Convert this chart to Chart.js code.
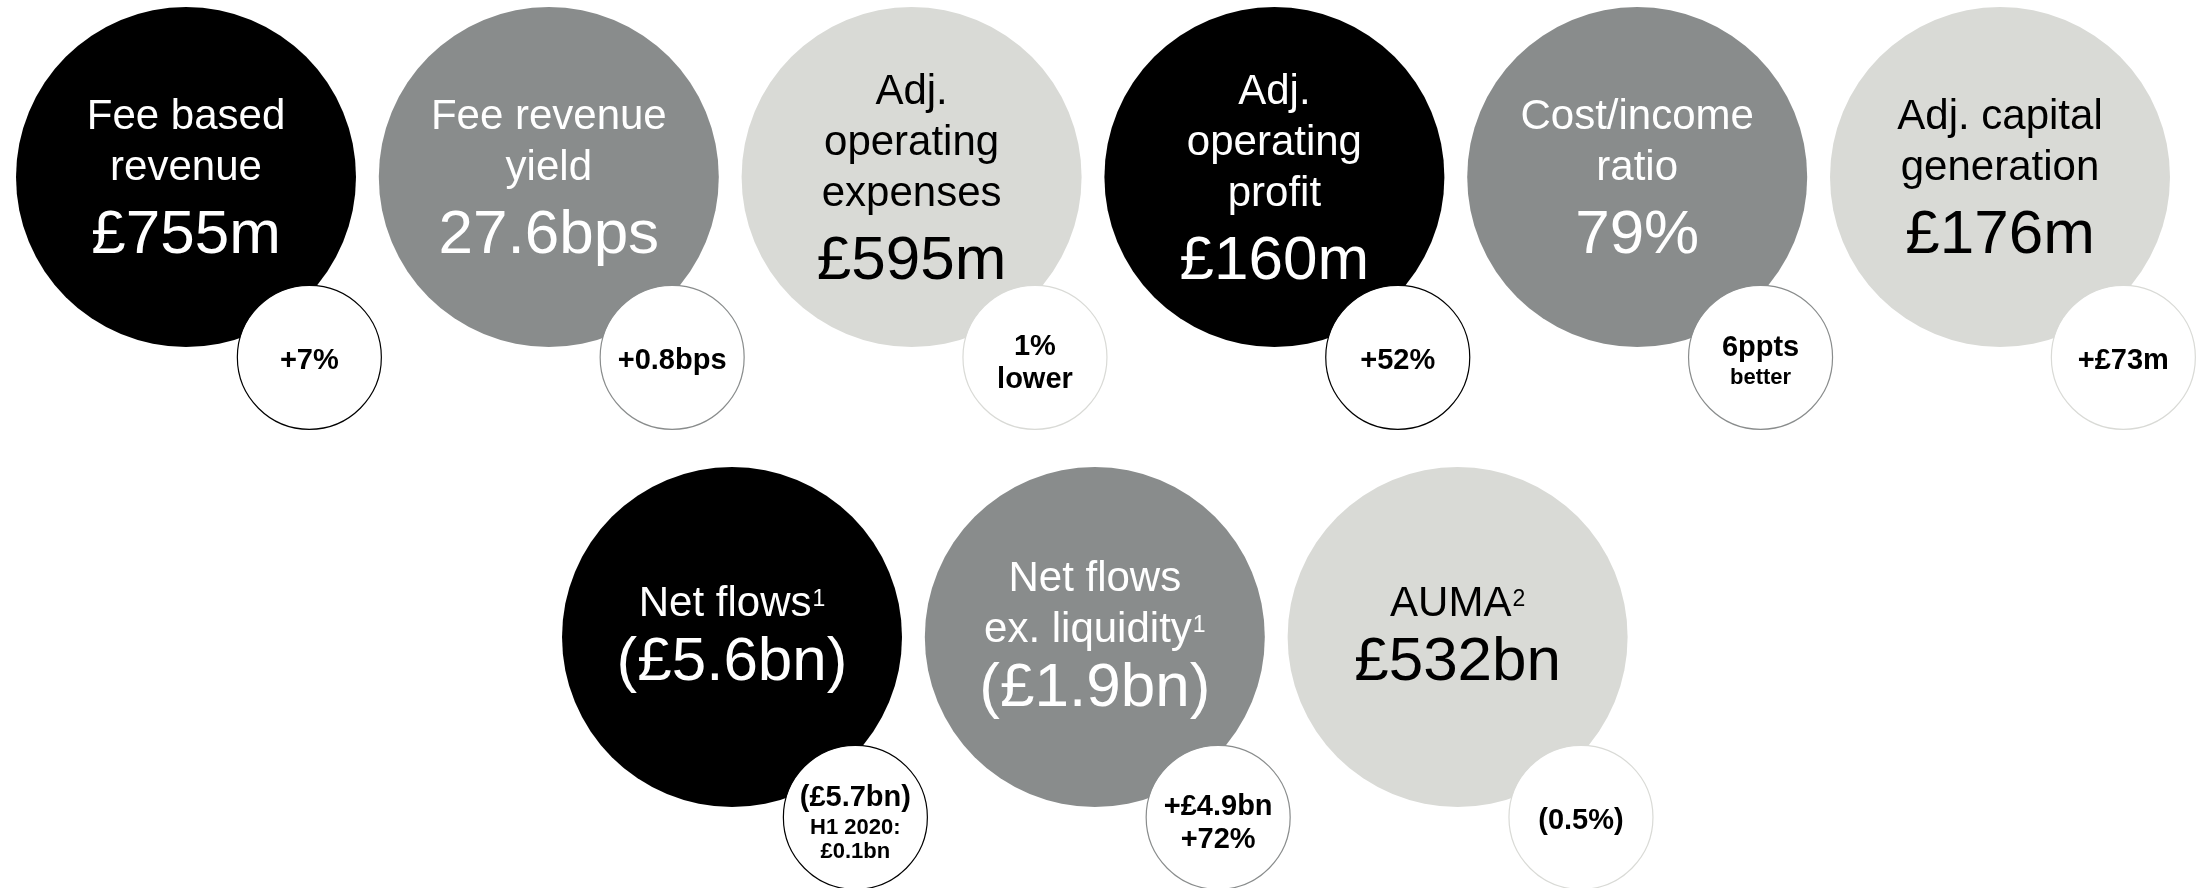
<!DOCTYPE html>
<html>
<head>
<meta charset="utf-8">
<title>H1 headline metrics</title>
<script src="https://cdn.jsdelivr.net/npm/chart.js@4"></script>
<style>
  html, body { margin: 0; padding: 0; background: #ffffff; }
  #wrap { position: relative; width: 2206px; height: 888px; }
</style>
</head>
<body>
<div id="wrap"><canvas id="kpi-canvas"></canvas></div>
<script>
// headline figures, one entry per bubble
const metricLabels = [
    ['Fee based', 'revenue'],
    ['Fee revenue', 'yield'],
    ['Adj.', 'operating', 'expenses'],
    ['Adj.', 'operating', 'profit'],
    ['Cost/income', 'ratio'],
    ['Adj. capital', 'generation'],
    ['Net flows'],
    ['Net flows', 'ex. liquidity'],
    ['AUMA']
];
const footnoteMarks = ['', '', '', '', '', '', '1', '1', '2'];
const metricValues = ['£755m', '27.6bps', '£595m', '£160m', '79%', '£176m', '(£5.6bn)', '(£1.9bn)', '£532bn'];

// movement vs prior period (small bubbles)
const changeLines = [['+7%'], ['+0.8bps'], ['1%', 'lower'], ['+52%'], ['6ppts'], ['+£73m'], ['(£5.7bn)'], ['+£4.9bn', '+72%'], ['(0.5%)']];
const changeNotes = [[], [], [], [], ['better'], [], ['H1 2020:', '£0.1bn'], [], []];

// layout: grid slot of each bubble (column, row)
const slotCol = [0, 1, 2, 3, 4, 5, 1.505, 2.505, 3.505];
const slotRow = [0, 0, 0, 0, 0, 0, 1, 1, 1];
const BADGE_DX = 0.34;
const BADGE_DY = 0.392;
const BIG_R = 170;
const SMALL_R = 72;

const TONES = ['#000000', '#898c8c', '#d9dad6'];
const INK = ['#ffffff', '#ffffff', '#000000'];
const FONT = '"Liberation Sans", Arial, Helvetica, sans-serif';
const SUP_PX = 23;

const bigPoints = metricValues.map((v, i) => ({ x: slotCol[i], y: slotRow[i], r: BIG_R }));
const smallPoints = changeLines.map((v, i) => ({ x: slotCol[i] + BADGE_DX, y: slotRow[i] + BADGE_DY, r: SMALL_R }));
const toneOf = i => TONES[i % 3];

const bubbleText = {
    id: 'bubbleText',
    afterDatasetsDraw(chart) {
        const ctx = chart.ctx;
        const big = chart.getDatasetMeta(1).data;
        const small = chart.getDatasetMeta(0).data;
        ctx.save();

        metricLabels.forEach((lines, i) => {
            const cx = big[i].x, cy = big[i].y;
            const row = slotRow[i];
            const gap = row === 0 ? 73 : 64;
            const shift = row === 0 ? -1 : -4;
            const h = (lines.length - 1) * 51 + gap + 30;
            let base = cy + shift - h / 2 + 30;
            ctx.fillStyle = INK[i % 3];
            ctx.textBaseline = 'alphabetic';

            lines.forEach((txt, k) => {
                const last = k === lines.length - 1;
                const sup = last ? footnoteMarks[i] : '';
                ctx.font = '42px ' + FONT;
                const w = ctx.measureText(txt).width;
                ctx.font = SUP_PX + 'px ' + FONT;
                const ws = sup ? ctx.measureText(sup).width + 1 : 0;
                const x0 = cx - (w + ws) / 2;
                ctx.textAlign = 'left';
                ctx.font = '42px ' + FONT;
                ctx.fillText(txt, x0, base);
                if (sup) {
                    ctx.font = SUP_PX + 'px ' + FONT;
                    ctx.fillText(sup, x0 + w + 1, base - 10);
                }
                if (!last) base += 51;
            });

            ctx.textAlign = 'center';
            ctx.font = '62px ' + FONT;
            ctx.fillText(metricValues[i], cx, base + gap);
        });

        // badge text, bold, main lines then smaller notes
        changeLines.forEach((mainLines, i) => {
            const cx = small[i].x, cy = small[i].y;
            const items = mainLines.map(t => ({ t, size: 29 }))
                .concat(changeNotes[i].map(t => ({ t, size: 22 })));
            const centers = [0];
            for (let k = 1; k < items.length; k++) {
                const a = items[k - 1].size, b = items[k].size;
                const step = a === 22 && b === 22 ? 24 : (a === 29 && b === 29 ? 33 : 31);
                centers.push(centers[k - 1] + step);
            }
            const span = centers[centers.length - 1];
            const off = 1.5 + 2 * (items.length - 1);
            ctx.fillStyle = '#000000';
            ctx.textAlign = 'center';
            ctx.textBaseline = 'alphabetic';
            items.forEach((it, k) => {
                const yc = cy + off - span / 2 + centers[k];
                ctx.font = 'bold ' + it.size + 'px ' + FONT;
                ctx.fillText(it.t, cx, yc + it.size * 0.36);
            });
        });

        ctx.restore();
    }
};

new Chart(document.getElementById('kpi-canvas'), {
    type: 'bubble',
    data: {
        datasets: [
            {
                label: 'Change',
                data: smallPoints,
                backgroundColor: '#ffffff',
                borderColor: smallPoints.map((p, i) => toneOf(i)),
                borderWidth: 1.2,
                order: 1,
                clip: false
            },
            {
                label: 'Metric',
                data: bigPoints,
                backgroundColor: bigPoints.map((p, i) => toneOf(i)),
                borderWidth: 0,
                order: 2,
                clip: false
            }
        ]
    },
    options: {
        responsive: true,
        maintainAspectRatio: false,
        animation: false,
        events: [],
        layout: { padding: 0, autoPadding: false },
        plugins: {
            legend: { display: false },
            tooltip: { enabled: false }
        },
        scales: {
            x: { type: 'linear', min: -186 / 362.8, max: (2206 - 186) / 362.8, display: false },
            y: { type: 'linear', min: -177 / 460, max: (888 - 177) / 460, reverse: true, display: false }
        }
    },
    plugins: [bubbleText]
});
</script>
</body>
</html>
